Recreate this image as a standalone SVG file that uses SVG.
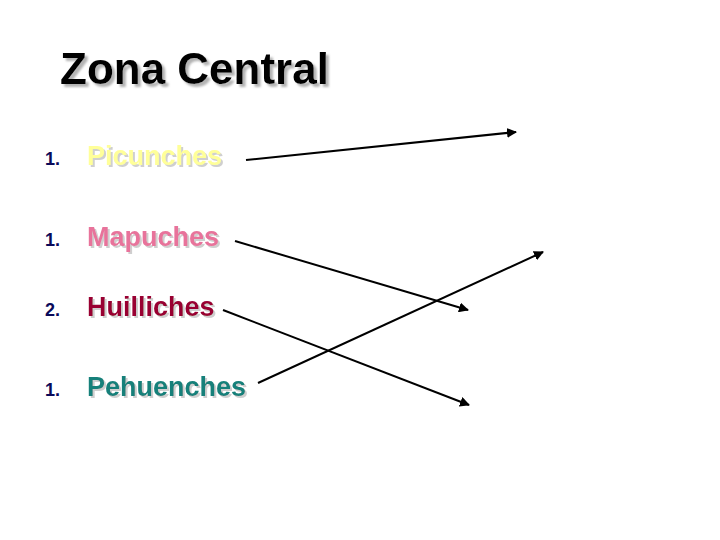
<svg xmlns="http://www.w3.org/2000/svg" width="720" height="540" viewBox="0 0 720 540">
<defs>
<style>
text{font-family:"Liberation Sans",Arial,sans-serif;font-weight:bold}
.title{font-size:44px;fill:#000}
.num{font-size:18px;fill:#0a0a5a}
.lbl{font-size:27px}
.conn line{stroke:#000;stroke-width:2;marker-end:url(#ah)}
</style>
<filter id="sh" x="-10%" y="-20%" width="130%" height="150%">
<feDropShadow dx="2" dy="2" stdDeviation="0.6" flood-color="#bbb" flood-opacity="0.7"/>
</filter>
<filter id="sh2" x="-10%" y="-20%" width="130%" height="150%">
<feDropShadow dx="3" dy="3" stdDeviation="0.8" flood-color="#aaa" flood-opacity="0.9"/>
</filter>
<marker id="ah" viewBox="0 0 10 10" refX="9" refY="5" markerWidth="5" markerHeight="5" orient="auto" markerUnits="strokeWidth">
<path d="M0,0 L10,5 L0,10 Z" fill="#000"/>
</marker>
</defs>
<rect width="720" height="540" fill="#fff"/>
<g id="title"><text class="title" x="60" y="84" filter="url(#sh2)">Zona Central</text></g>
<g id="picunches"><text class="num" x="45" y="165">1.</text><text class="lbl" x="87" y="165" fill="#ffff99" filter="url(#sh)">Picunches</text></g>
<g id="mapuches"><text class="num" x="45" y="246">1.</text><text class="lbl" x="87" y="246" fill="#e8739b" filter="url(#sh)">Mapuches</text></g>
<g id="huilliches"><text class="num" x="45" y="316">2.</text><text class="lbl" x="87" y="316" fill="#990033" filter="url(#sh)">Huilliches</text></g>
<g id="pehuenches"><text class="num" x="45" y="396">1.</text><text class="lbl" x="87" y="396" fill="#16807a" filter="url(#sh)">Pehuenches</text></g>
<g id="connectors" class="conn">
<line x1="246" y1="160" x2="516" y2="132"/>
<line x1="235" y1="241" x2="468" y2="310"/>
<line x1="223" y1="310" x2="469" y2="405"/>
<line x1="258" y1="383" x2="543" y2="252"/>
</g>
</svg>
